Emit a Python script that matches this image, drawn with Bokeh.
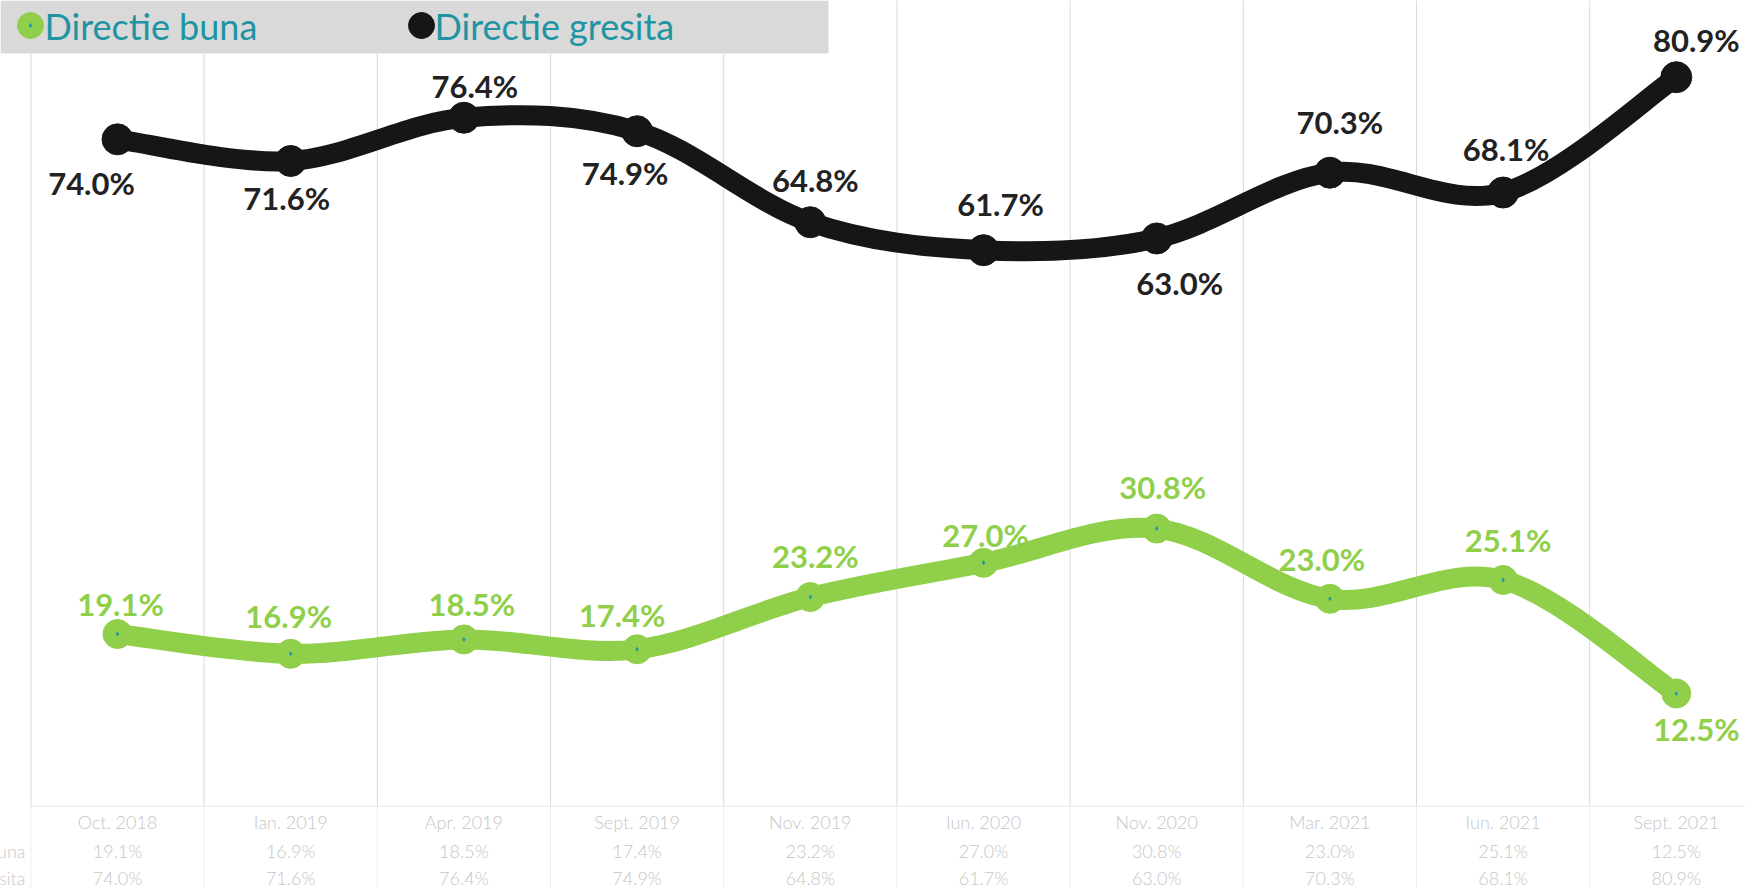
import numpy as np
from bokeh.plotting import figure
from bokeh.models import Range1d
from bokeh.core.properties import value
from bokeh.embed import file_html
from bokeh.resources import INLINE

# ---------------- data ----------------
categories = ["Oct. 2018", "Ian. 2019", "Apr. 2019", "Sept. 2019", "Nov. 2019",
              "Iun. 2020", "Nov. 2020", "Mar. 2021", "Iun. 2021", "Sept. 2021"]
buna = [19.1, 16.9, 18.5, 17.4, 23.2, 27.0, 30.8, 23.0, 25.1, 12.5]
gresita = [74.0, 71.6, 76.4, 74.9, 64.8, 61.7, 63.0, 70.3, 68.1, 80.9]
series_names = ["Directie buna", "Directie gresita"]

# ---------------- layout / style ----------------
W, H = 1745, 888
PXX = 173.2                  # px per category
PXY = 9.01                   # px per percent
X0 = -117 / PXX
X1 = X0 + W / PXX
Y1 = 805.6 / PXY
Y0 = Y1 - H / PXY

GREEN = "#8fcf4a"
BLACK = "#161616"
TEAL = "#2094a2"
FONT = "Lato"
LIGHT_FONT = "'Lato Light', Lato"

# label offsets (px, screen: +dy = down) of the label centre from each marker
off_gresita = [(-26, 44), (-4, 37), (11, -32), (-12, 42), (5, -42),
               (17, -46), (23, 45), (10, -51), (3, -44), (20, -37)]
off_buna = [(3, -30), (-2, -38), (8, -35), (-15, -34), (5, -41),
            (2, -28), (6, -42), (-8, -40), (5, -40), (20, 36)]


def img_x(ix):
    return X0 + ix / PXX


def img_y(iy):
    return Y1 - iy / PXY


def smooth(xs, ys, t=1.0 / 6.0):
    n = len(xs)
    P = np.column_stack([xs, ys]).astype(float)
    out = {k: [] for k in ("x0", "y0", "x1", "y1", "cx0", "cy0", "cx1", "cy1")}
    for i in range(n - 1):
        pm = P[max(i - 1, 0)]
        p0 = P[i]
        p1 = P[i + 1]
        p2 = P[min(i + 2, n - 1)]
        c0 = p0 + (p1 - pm) * t
        c1 = p1 - (p2 - p0) * t
        for k, v in (("x0", p0[0]), ("y0", p0[1]), ("x1", p1[0]), ("y1", p1[1]),
                     ("cx0", c0[0]), ("cy0", c0[1]), ("cx1", c1[0]), ("cy1", c1[1])):
            out[k].append(v)
    return out


p = figure(width=W, height=H, output_backend="svg", toolbar_location=None,
           x_range=Range1d(X0, X1), y_range=Range1d(Y0, Y1),
           min_border=0, min_border_left=0, min_border_right=0,
           min_border_top=0, min_border_bottom=0)
p.axis.visible = False
p.grid.visible = False
p.outline_line_color = None
p.background_fill_color = "white"
p.border_fill_color = "white"

xs = list(range(len(categories)))
bounds = [i - 0.5 for i in range(len(categories) + 1)]

# vertical gridlines in plot area
p.segment(x0=bounds, y0=[0] * len(bounds), x1=bounds, y1=[Y1] * len(bounds),
          line_color="#d9d9d9", line_width=1)
# data table lines
p.segment(x0=bounds, y0=[0] * len(bounds), x1=bounds, y1=[Y0] * len(bounds),
          line_color="#ededed", line_width=1)
p.segment(x0=[-0.5], y0=[0], x1=[X1], y1=[0], line_color="#e6e6e6", line_width=1)

# smoothed lines
for vals, col in ((gresita, BLACK), (buna, GREEN)):
    b = smooth(xs, vals)
    p.bezier(x0=b["x0"], y0=b["y0"], x1=b["x1"], y1=b["y1"],
             cx0=b["cx0"], cy0=b["cy0"], cx1=b["cx1"], cy1=b["cy1"],
             line_color=col, line_width=20, line_cap="round")

# markers
p.scatter(xs, gresita, size=31, fill_color=BLACK, line_color=BLACK)
p.scatter(xs, buna, size=29, fill_color=GREEN, line_color=GREEN)
p.scatter(xs, buna, size=5, marker="diamond", fill_color=TEAL, line_color=None)

# data labels
for vals, offs, col in ((gresita, off_gresita, "#222222"), (buna, off_buna, GREEN)):
    lx = [i + o[0] / PXX for i, o in zip(xs, offs)]
    ly = [v - o[1] / PXY for v, o in zip(vals, offs)]
    p.text(lx, ly, text=[f"{v:.1f}%" for v in vals], text_font=value(FONT),
           text_font_size=value("31px"), text_font_style="bold",
           text_color=col, text_align="center", text_baseline="middle")

# data table below the axis
TCOL = "#c6c6c6"
rows_y = [-(821 - 805.6) / PXY, -(850 - 805.6) / PXY, -(877 - 805.6) / PXY]
for ry, labels in zip(rows_y, (categories,
                               [f"{v:.1f}%" for v in buna],
                               [f"{v:.1f}%" for v in gresita])):
    p.text(xs, [ry] * len(xs), text=labels, text_font=value(LIGHT_FONT),
           text_font_size=value("18px"), text_color=TCOL,
           text_align="center", text_baseline="middle")
p.text([img_x(25)] * 2, rows_y[1:], text=series_names, text_font=value(LIGHT_FONT),
       text_font_size=value("18px"), text_color=TCOL, text_align="right",
       text_baseline="middle")

# legend box
p.quad(left=[img_x(0)], right=[img_x(828)], top=[img_y(0)], bottom=[img_y(53)],
       fill_color="#d9d9d9", line_color=None)
p.scatter([img_x(30)], [img_y(25)], size=26, fill_color=GREEN, line_color=GREEN)
p.scatter([img_x(30)], [img_y(25)], size=5, marker="diamond", fill_color=TEAL, line_color=None)
p.scatter([img_x(421)], [img_y(25)], size=26, fill_color=BLACK, line_color=BLACK)
p.text([img_x(44), img_x(434)], [img_y(25)] * 2, text=series_names,
       text_font=value(FONT), text_font_size=value("36px"), text_color=TEAL,
       text_align="left", text_baseline="middle")

open("out.html", "w").write(file_html(p, INLINE))
